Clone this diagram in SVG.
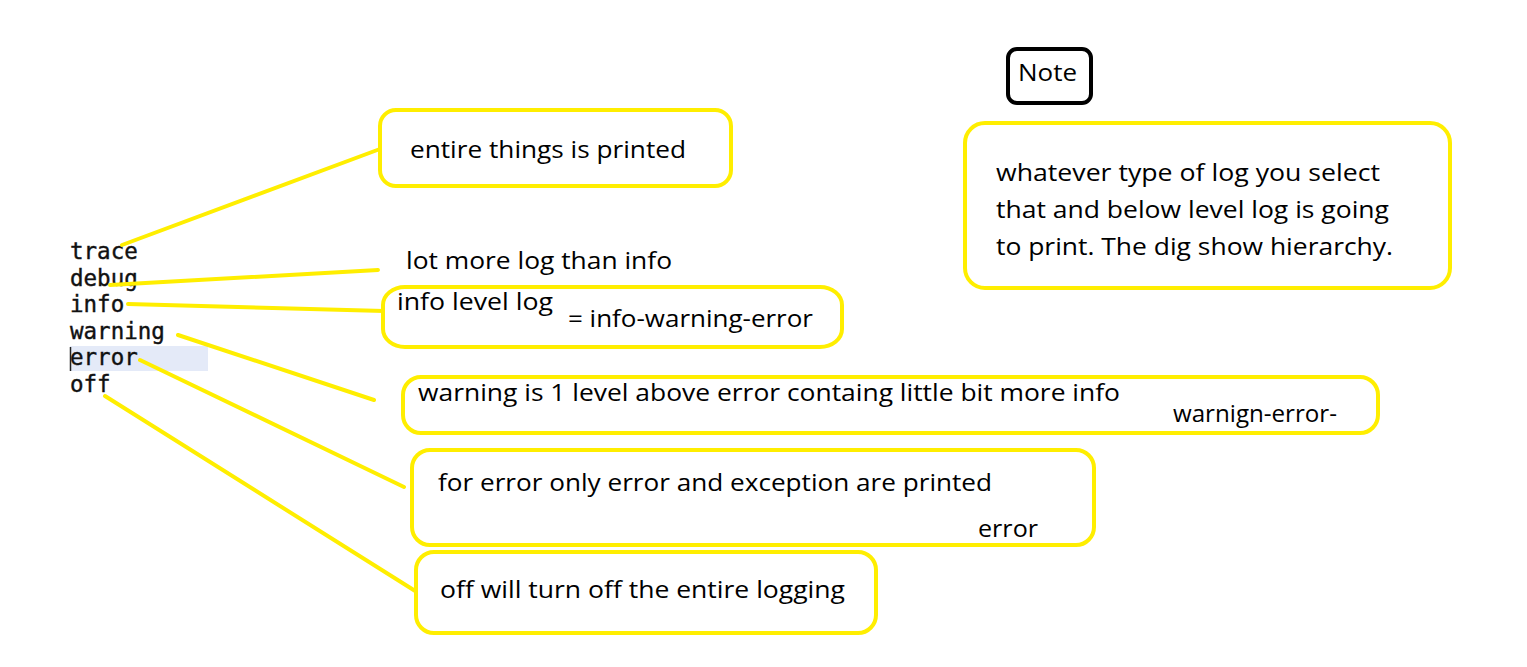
<svg xmlns="http://www.w3.org/2000/svg" width="1527" height="667" viewBox="0 0 1527 667">
<style>
.t{font-family:"Open Sans","Noto Sans",sans-serif;font-size:24px;fill:#000}
.m{font-family:"DejaVu Sans Mono","Liberation Mono",monospace;font-size:22.5px;fill:#111;stroke:#111;stroke-width:0.4}
.yb{fill:#fff;stroke:#ffee00;stroke-width:4}
.c{stroke:#ffee00;stroke-width:4;stroke-linecap:round;fill:none}
</style>
<rect width="1527" height="667" fill="#fff"/>
<g id="levels">
<rect x="70" y="346" width="138" height="25" fill="#e4eaf8"/>
<line x1="70.5" y1="347" x2="70.5" y2="371" stroke="#222" stroke-width="1.5"/>
<text class="m" x="70" y="259">trace</text>
<text class="m" x="70" y="286">debug</text>
<text class="m" x="70" y="312">info</text>
<text class="m" x="70" y="339">warning</text>
<text class="m" x="70" y="365">error</text>
<text class="m" x="70" y="392">off</text>
</g>
<g id="connectors">
<line class="c" x1="122" y1="245" x2="380" y2="149"/>
<line class="c" x1="110" y1="285" x2="378" y2="270"/>
<line class="c" x1="128" y1="304" x2="384" y2="311"/>
<line class="c" x1="178" y1="335" x2="374" y2="400"/>
<line class="c" x1="140" y1="360" x2="404" y2="487"/>
<line class="c" x1="105" y1="396" x2="420" y2="594"/>
</g>
<g id="trace-note">
<rect class="yb" x="380" y="110" width="351" height="76" rx="16"/>
<text class="t" x="410" y="158" textLength="276" lengthAdjust="spacingAndGlyphs">entire things is printed</text>
</g>
<g id="debug-note">
<text class="t" x="406" y="269" textLength="266" lengthAdjust="spacingAndGlyphs">lot more log than info</text>
</g>
<g id="info-note">
<rect class="yb" x="383" y="287" width="459" height="60" rx="22" ry="18"/>
<text class="t" x="397" y="310" textLength="156" lengthAdjust="spacingAndGlyphs">info level log</text>
<text class="t" x="568" y="327" textLength="245" lengthAdjust="spacingAndGlyphs">= info-warning-error</text>
</g>
<g id="warning-note">
<rect class="yb" x="403" y="377" width="975" height="56" rx="18"/>
<text class="t" x="418" y="401" textLength="702" lengthAdjust="spacingAndGlyphs">warning is 1 level above error containg little bit more info</text>
<text class="t" x="1173" y="422" textLength="164" lengthAdjust="spacingAndGlyphs">warnign-error-</text>
</g>
<g id="error-note">
<rect class="yb" x="412" y="450" width="682" height="95" rx="18"/>
<text class="t" x="438" y="491" textLength="554" lengthAdjust="spacingAndGlyphs">for error only error and exception are printed</text>
<text class="t" x="978" y="537" textLength="60" lengthAdjust="spacingAndGlyphs">error</text>
</g>
<g id="off-note">
<rect class="yb" x="416" y="552" width="460" height="81" rx="18"/>
<text class="t" x="440" y="598" textLength="405" lengthAdjust="spacingAndGlyphs">off will turn off the entire logging</text>
</g>
<g id="note-title">
<rect x="1008" y="49" width="83" height="54" rx="9" fill="#fff" stroke="#000" stroke-width="4"/>
<text class="t" x="1018" y="81" textLength="59" lengthAdjust="spacingAndGlyphs">Note</text>
</g>
<g id="note-body">
<rect class="yb" x="965" y="123" width="485" height="165" rx="20"/>
<text class="t" x="996" y="181" textLength="384" lengthAdjust="spacingAndGlyphs">whatever type of log you select</text>
<text class="t" x="996" y="218" textLength="393" lengthAdjust="spacingAndGlyphs">that and below level log is going</text>
<text class="t" x="996" y="255" textLength="397" lengthAdjust="spacingAndGlyphs">to print. The dig show hierarchy.</text>
</g>
</svg>
